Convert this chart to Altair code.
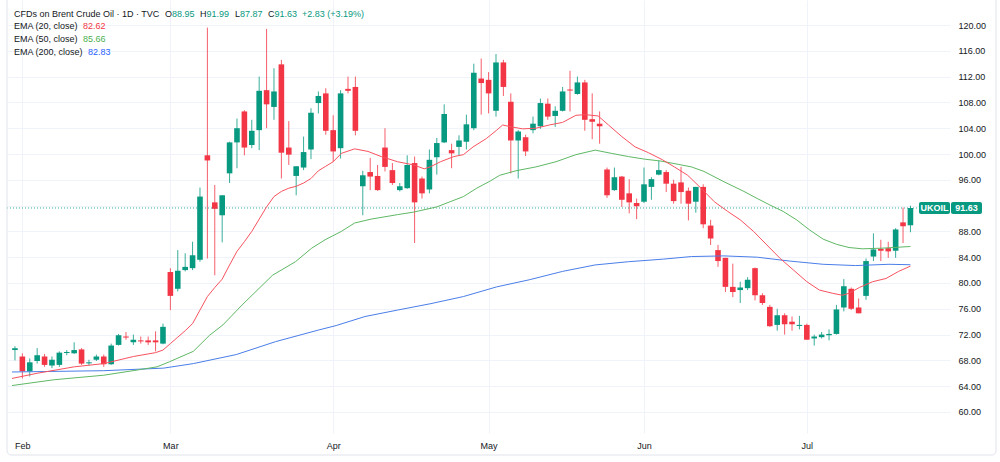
import altair as alt
import pandas as pd

# ---------------- data ----------------
opens = [69.6, 68.6, 66.3, 67.9, 68.6, 67.2, 67.3, 69.2, 69.1, 69.7,
         67.6, 68.1, 68.6, 67.4, 70.4, 71.7, 70.8, 71.1, 71.1, 71.1,
         70.6, 81.7, 79.1, 82.0, 82.3, 83.6, 99.8, 92.5, 90.5, 97.0,
         101.8, 106.6, 101.4, 103.7, 109.9, 107.3, 113.9, 101.0, 96.6, 97.9,
         100.7, 107.9, 109.4, 103.7, 100.9, 110.1, 110.4, 95.0, 97.2, 96.6,
         101.0, 97.5, 94.4, 94.7, 98.6, 96.2, 94.5, 99.5, 101.8, 100.6,
         101.1, 101.9, 104.0, 111.7, 111.5, 106.7, 114.2, 108.1, 102.1, 102.6,
         103.7, 104.3, 107.8, 105.9, 106.7, 110.0, 109.3, 111.1, 105.4, 104.7,
         97.6, 94.4, 96.5, 93.9, 92.4, 92.6, 94.9, 96.8, 97.2, 95.4,
         95.6, 94.3, 92.6, 94.9, 88.9, 85.1, 83.9, 79.4, 78.9, 79.2,
         82.3, 78.1, 76.3, 73.5, 75.0, 74.0, 73.4, 73.5, 71.4, 71.6,
         71.9, 72.1, 76.2, 79.1, 76.2, 78.0, 84.1, 85.3, 85.4, 85.0,
         89.4, 88.95]
highs = [70.2, 69.1, 68.3, 69.9, 69.0, 68.6, 69.4, 69.6, 70.8, 69.9,
         68.1, 68.9, 68.9, 70.6, 72.1, 72.4, 72.0, 71.7, 71.7, 72.5,
         73.7, 82.3, 85.1, 84.6, 86.4, 94.8, 119.6, 95.2, 93.6, 101.9,
         105.5, 106.8, 105.3, 112.0, 119.4, 113.3, 114.6, 105.1, 98.1, 102.7,
         107.1, 109.7, 110.2, 106.0, 109.9, 112.0, 112.0, 97.4, 99.4, 98.3,
         104.0, 98.6, 95.5, 99.8, 99.6, 96.5, 100.7, 102.5, 107.7, 101.6,
         102.9, 106.1, 114.0, 114.8, 112.7, 115.5, 114.6, 109.4, 103.7, 103.0,
         105.8, 108.6, 108.6, 107.4, 110.4, 112.9, 112.0, 111.5, 109.4, 106.6,
         97.9, 97.9, 96.6, 96.1, 93.1, 97.9, 96.4, 99.0, 97.5, 96.0,
         98.0, 94.8, 94.9, 95.3, 89.8, 85.9, 83.9, 83.0, 80.2, 80.9,
         82.4, 78.4, 76.6, 76.0, 75.3, 74.8, 74.9, 73.7, 72.0, 72.4,
         72.8, 76.6, 80.6, 79.3, 77.6, 83.8, 87.7, 86.7, 86.4, 88.5,
         91.7, 91.99]
lows = [68.0, 65.2, 65.5, 67.5, 67.0, 66.8, 67.0, 68.8, 69.0, 67.3,
        67.2, 67.9, 67.0, 67.3, 70.3, 71.2, 70.4, 70.6, 70.4, 69.4,
        70.5, 75.8, 78.7, 81.8, 82.0, 83.3, 83.8, 81.2, 86.3, 95.5,
        97.8, 99.8, 100.9, 100.6, 104.0, 105.3, 96.2, 98.3, 93.6, 97.5,
        99.2, 106.3, 103.0, 98.8, 99.3, 109.4, 102.9, 90.5, 94.4, 94.3,
        97.3, 95.2, 94.2, 94.6, 86.2, 93.1, 93.9, 96.8, 101.7, 97.8,
        99.8, 100.7, 103.7, 106.1, 106.3, 105.8, 109.0, 97.0, 96.2, 99.7,
        103.2, 103.9, 105.3, 104.2, 106.6, 106.6, 109.2, 103.6, 102.3, 101.6,
        93.2, 94.3, 91.8, 90.8, 89.9, 92.4, 92.9, 96.7, 94.1, 92.3,
        92.3, 89.7, 90.9, 88.5, 85.9, 82.5, 78.6, 77.8, 76.9, 78.9,
        77.3, 76.6, 73.2, 72.6, 72.0, 72.6, 72.8, 71.2, 70.3, 71.4,
        71.1, 72.0, 75.6, 75.8, 75.3, 77.4, 83.4, 83.4, 83.9, 83.9,
        86.2, 87.87]
closes = [69.9, 66.3, 67.7, 68.8, 67.3, 68.1, 69.2, 69.3, 69.6, 67.5,
          67.7, 68.6, 67.4, 70.3, 71.9, 71.6, 71.2, 71.0, 70.8, 70.8,
          73.2, 78.0, 81.9, 82.5, 84.3, 93.4, 99.0, 91.5, 93.6, 101.8,
          104.0, 101.0, 103.6, 109.8, 107.7, 109.7, 100.2, 99.9, 98.1, 100.3,
          106.4, 109.0, 103.6, 100.4, 109.4, 109.8, 103.6, 96.7, 96.5, 94.4,
          98.0, 95.5, 95.0, 98.3, 92.5, 93.9, 99.1, 101.7, 106.2, 100.1,
          102.1, 104.6, 112.6, 111.0, 109.4, 114.2, 110.4, 102.1, 103.5, 100.4,
          104.7, 107.9, 105.8, 106.7, 109.7, 109.9, 111.1, 105.3, 105.0, 104.3,
          93.6, 96.4, 92.9, 92.5, 91.9, 95.3, 96.1, 97.5, 95.4, 92.7,
          94.1, 92.3, 94.9, 89.1, 86.9, 83.4, 79.4, 78.6, 79.3, 80.5,
          78.1, 76.9, 73.3, 75.0, 73.6, 73.6, 73.5, 71.2, 71.7, 72.0,
          72.1, 75.9, 79.5, 76.0, 75.3, 83.4, 85.2, 85.0, 84.9, 88.3,
          88.8, 91.63]
bar_index = list(range(1, len(closes) + 1))

ema20_n = [0.6, 4, 9, 13, 17, 20, 21, 22, 23, 24, 25, 26, 27, 28, 29, 30, 31, 32, 33, 34,
           35, 36, 37, 38, 39, 40, 41, 42, 43, 44, 45.1, 46.9, 48.7, 50.5, 52.7, 54.9,
           56.3, 57.1, 58.5, 60.3, 61.6, 62.9, 64.7, 66.1, 66.9, 68.1, 69.6, 71.4, 73.2,
           75.0, 76.8, 78.1, 79.8, 81.2, 83.0, 84.8, 86.6, 88.5, 90.1, 91.9, 93.7, 95.5,
           97.3, 99.0, 100.8, 102.6, 104.4, 106.2, 108.0, 109.7, 111.5, 112.8, 113.7,
           115.1, 116.9, 118.7, 120.4, 122]
ema20_v = [65.2, 66.0, 67.0, 67.5, 68.6, 69.2, 69.6, 70.6, 71.6, 72.6, 73.7, 75.8, 77.9,
           79.3, 80.6, 82.8, 84.9, 86.4, 88.0, 89.9, 91.8, 93.4, 94.2, 94.7, 95.0, 95.5,
           96.2, 97.4, 98.1, 98.8, 100.1, 100.8, 100.4, 99.6, 98.8, 98.3, 97.7, 98.0,
           98.8, 99.6, 99.9, 101.1, 102.4, 103.7, 104.5, 104.2, 103.9, 104.0, 104.5,
           104.9, 106.0, 106.1, 105.9, 104.5, 102.7, 101.1, 100.2, 99.1, 98.0, 96.7,
           94.7, 92.6, 91.1, 89.8, 88.0, 85.9, 83.8, 82.0, 80.2, 78.9, 78.4, 78.1, 78.4,
           79.3, 80.2, 80.7, 81.8, 82.62]

ema50_n = [0.6, 6.3, 13.0, 17.5, 20.2, 21.9, 25.1, 27.3, 29.1, 31.7, 35.8, 38.9, 41.1,
           42.9, 45.1, 46.9, 49.1, 52.7, 54.9, 58.0, 59.8, 61.6, 63.4, 65.2, 66.5, 68.7,
           71.4, 74.1, 76.8, 79.4, 81.6, 83.9, 86.1, 88.3, 90.6, 92.4, 94.1, 96.8, 99.5,
           101.3, 103.0, 104.8, 106.6, 108.4, 110.2, 112.0, 113.7, 115.5, 118.2, 122]
ema50_v = [64.1, 65.0, 65.7, 66.5, 67.0, 67.8, 69.4, 71.9, 73.5, 76.6, 81.2, 83.3, 85.4,
           86.7, 88.0, 89.3, 89.9, 90.6, 91.0, 91.8, 92.6, 93.4, 94.7, 95.8, 96.7, 97.4,
           98.0, 98.8, 99.9, 100.6, 100.1, 99.6, 99.2, 98.9, 98.4, 98.0, 97.3, 95.7,
           94.2, 93.1, 92.1, 91.1, 89.8, 88.2, 86.8, 86.0, 85.5, 85.3, 85.4, 85.66]

ema200_n = [0.6, 13.0, 21.1, 25.1, 30.9, 36.2, 42.0, 44.4, 48.3, 52.7, 57.2, 61.6, 66.1,
            70.5, 75.0, 79.4, 83.9, 88.6, 92.4, 96.8, 101.3, 105.7, 110.2, 114.6, 119.1, 122]
ema200_v = [66.2, 66.4, 66.8, 67.5, 68.9, 70.9, 72.7, 73.4, 74.8, 75.8, 76.8, 77.9, 79.4,
            80.5, 81.8, 82.8, 83.3, 83.7, 84.1, 84.2, 84.0, 83.4, 82.9, 82.7, 82.9, 82.83]

month_index = [2, 22, 44, 65, 86, 108]
month_names = ["Feb", "Mar", "Apr", "May", "Jun", "Jul"]
price_ticks = list(range(60, 121, 4))

last_close = 91.63
symbol = "UKOIL"

# ---------------- styling ----------------
UP = "#089981"
DOWN = "#F23645"
C20 = "#f7525f"
C50 = "#5fb865"
C200 = "#4a7ee8"
TXT = "#131722"
FONT = "Liberation Sans"
GRID = "#f0f3fa"

W, H = 943, 433
xs = alt.Scale(domain=[0.6, 126.67], nice=False, zero=False)
ys = alt.Scale(domain=[56.74, 123.88], nice=False, zero=False)

df = pd.DataFrame({"n": bar_index, "open": opens, "high": highs,
                   "low": lows, "close": closes})

label_expr = ("[" + ",".join("'%s'" % m for m in month_names) + "][indexof(["
              + ",".join(str(i) for i in month_index) + "], datum.value)]")

x_axis = alt.Axis(values=month_index, labelExpr=label_expr, grid=True,
                  gridColor=GRID, domain=False, ticks=False,
                  labelFontSize=9, labelColor=TXT, labelFont=FONT,
                  labelPadding=8, labelFlush=False, labelOverlap=False, title=None)
y_axis = alt.Axis(orient="right", values=price_ticks, format=".2f", grid=True,
                  gridColor=GRID, domain=False, ticks=False, labelFontSize=9,
                  labelColor=TXT, labelFont=FONT, labelPadding=8,
                  labelOverlap=False, labelSeparation=0, title=None,
                  labelExpr=f"abs(datum.value - {last_close}) < 2 ? '' : format(datum.value, '.2f')")

def X(field):
    return alt.X(field, scale=xs, axis=x_axis)

def Y(field):
    return alt.Y(field, scale=ys, axis=y_axis)

base = alt.Chart(df).transform_calculate(
    col=f"datum.close >= datum.open ? '{UP}' : '{DOWN}'",
    top="max(datum.open, datum.close)",
    bot0="min(datum.open, datum.close)",
).transform_calculate(
    bot="datum.top - datum.bot0 < 0.16 ? datum.top - 0.16 : datum.bot0"
)

wicks = base.mark_rule(strokeWidth=1, opacity=0.8).encode(
    x=X("n:Q"), y=Y("low:Q"), y2="high:Q",
    color=alt.Color("col:N", scale=None),
)
bodies = base.mark_bar(width=5.6).encode(
    x=X("n:Q"), y=Y("bot:Q"), y2="top:Q",
    color=alt.Color("col:N", scale=None),
)

def ema_layer(ns, vs, color):
    d = pd.DataFrame({"n": ns, "v": vs})
    return alt.Chart(d).mark_line(strokeWidth=1, color=color).encode(
        x=X("n:Q"), y=Y("v:Q"))

lines = [ema_layer(ema200_n, ema200_v, C200),
         ema_layer(ema50_n, ema50_v, C50),
         ema_layer(ema20_n, ema20_v, C20)]

last = pd.DataFrame({"p": [last_close]})
price_line = alt.Chart(last).mark_rule(color=UP, strokeDash=[1, 2], opacity=0.8,
                                        strokeWidth=1).encode(y=Y("p:Q"))

tag_base = alt.Chart(last).transform_calculate(
    t="datum.p + 0.93", b="datum.p - 0.93",
    lbl="format(datum.p, '.2f')")
tag1 = tag_base.mark_rect(color=UP, cornerRadius=2).encode(
    y=Y("t:Q"), y2="b:Q", x=alt.value(912), x2=alt.value(943))
tag2 = tag_base.mark_rect(color=UP, cornerRadius=2).encode(
    y=Y("t:Q"), y2="b:Q", x=alt.value(944), x2=alt.value(975))
tag1t = tag_base.mark_text(color="white", font=FONT, fontSize=9, fontWeight="bold",
                           align="center", baseline="middle").encode(
    y=Y("p:Q"), x=alt.value(927.5), text=alt.value(symbol))
tag2t = tag_base.mark_text(color="white", font=FONT, fontSize=9, fontWeight="bold",
                           align="center", baseline="middle").encode(
    y=Y("p:Q"), x=alt.value(959.5), text="lbl:N")

one = pd.DataFrame({"a": [0]})

def txt(s, x, y, color=TXT):
    return alt.Chart(one).mark_text(align="left", baseline="middle", font=FONT,
                                    fontSize=9, color=color).encode(
        x=alt.value(x), y=alt.value(y), text=alt.value(s))

legend = [
    txt("CFDs on Brent Crude Oil · 1D · TVC", 7, 13.5),
    txt("O", 158, 13.5), txt("88.95", 165, 13.5, UP),
    txt("H", 193, 13.5), txt("91.99", 199.5, 13.5, UP),
    txt("L", 228, 13.5), txt("87.87", 233, 13.5, UP),
    txt("C", 261, 13.5), txt("91.63", 267.5, 13.5, UP),
    txt("+2.83 (+3.19%)", 295, 13.5, UP),
    txt("EMA (20, close)", 7, 26), txt("82.62", 76, 26, DOWN),
    txt("EMA (50, close)", 7, 39), txt("85.66", 76, 39, "#4caf50"),
    txt("EMA (200, close)", 7, 52), txt("82.83", 81, 52, "#2962ff"),
]

frame = alt.Chart(one).mark_rect(fill=None, stroke="#e0e3eb", strokeWidth=1,
                                 cornerRadius=4).encode(
    x=alt.value(0), x2=alt.value(989), y=alt.value(-8), y2=alt.value(455))

chart = alt.layer(
    wicks, price_line, bodies, *lines, tag1, tag2, tag1t, tag2t, *legend, frame
).properties(
    width=W, height=H,
    autosize=alt.AutoSizeParams(type="none"),
    padding={"left": 7, "top": 0, "right": 50, "bottom": 29},
    background="white",
).configure_view(stroke=None)

chart.save("out.html", embed_options={"renderer": "svg", "actions": False})
